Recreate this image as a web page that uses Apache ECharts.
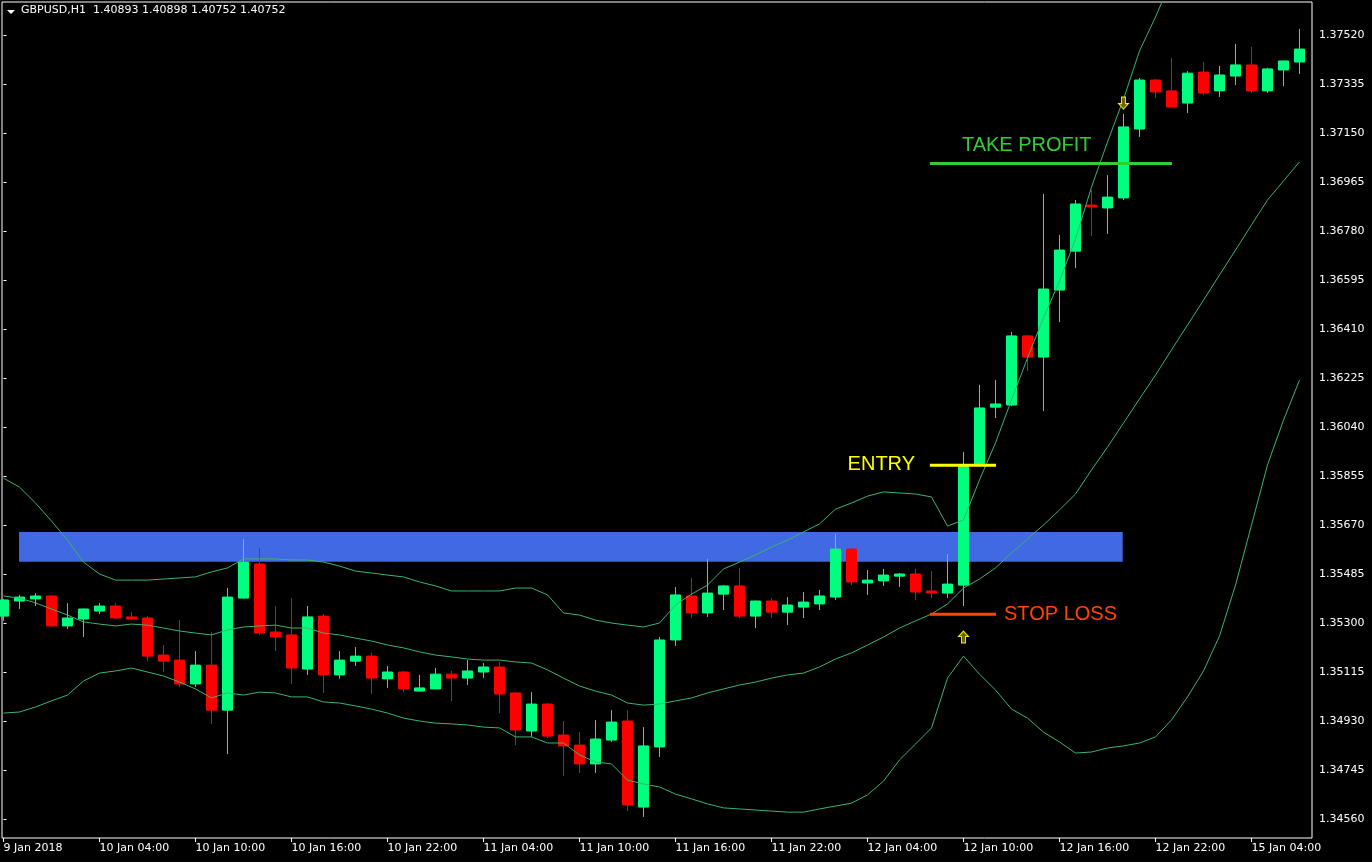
<!DOCTYPE html>
<html><head><meta charset="utf-8">
<script src="https://cdn.jsdelivr.net/npm/echarts@6/dist/echarts.min.js"></script>
<style>html,body{margin:0;padding:0;background:#000;}#c{width:1372px;height:862px;}</style>
</head><body><div id="c"></div>
<script>
// ---- data (GBPUSD H1) ----
const barTimes = [
 "9 Jan 22:00","9 Jan 23:00",
 "10 Jan 00:00","10 Jan 01:00","10 Jan 02:00","10 Jan 03:00","10 Jan 04:00","10 Jan 05:00","10 Jan 06:00","10 Jan 07:00",
 "10 Jan 08:00","10 Jan 09:00","10 Jan 10:00","10 Jan 11:00","10 Jan 12:00","10 Jan 13:00","10 Jan 14:00","10 Jan 15:00",
 "10 Jan 16:00","10 Jan 17:00","10 Jan 18:00","10 Jan 19:00","10 Jan 20:00","10 Jan 21:00","10 Jan 22:00","10 Jan 23:00",
 "11 Jan 00:00","11 Jan 01:00","11 Jan 02:00","11 Jan 03:00","11 Jan 04:00","11 Jan 05:00","11 Jan 06:00","11 Jan 07:00",
 "11 Jan 08:00","11 Jan 09:00","11 Jan 10:00","11 Jan 11:00","11 Jan 12:00","11 Jan 13:00","11 Jan 14:00","11 Jan 15:00",
 "11 Jan 16:00","11 Jan 17:00","11 Jan 18:00","11 Jan 19:00","11 Jan 20:00","11 Jan 21:00","11 Jan 22:00","11 Jan 23:00",
 "12 Jan 00:00","12 Jan 01:00","12 Jan 02:00","12 Jan 03:00","12 Jan 04:00","12 Jan 05:00","12 Jan 06:00","12 Jan 07:00",
 "12 Jan 08:00","12 Jan 09:00","12 Jan 10:00","12 Jan 11:00","12 Jan 12:00","12 Jan 13:00","12 Jan 14:00","12 Jan 15:00",
 "12 Jan 16:00","12 Jan 17:00","12 Jan 18:00","12 Jan 19:00","12 Jan 20:00","12 Jan 21:00","12 Jan 22:00","12 Jan 23:00",
 "15 Jan 00:00","15 Jan 01:00","15 Jan 02:00","15 Jan 03:00","15 Jan 04:00","15 Jan 05:00","15 Jan 06:00","15 Jan 07:00"
];
const opens = [
 1.35326,1.35383,1.35391,1.35402,1.35289,1.35315,1.35345,1.35364,1.35323,1.35319,
 1.35179,1.35160,1.35070,1.35141,1.34971,1.35394,1.35523,1.35266,1.35255,1.35126,
 1.35326,1.35104,1.35156,1.35175,1.35089,1.35115,1.35043,1.35051,1.35107,1.35092,
 1.35115,1.35134,1.35036,1.34892,1.34994,1.34877,1.34839,1.34768,1.34858,1.34930,
 1.34605,1.34832,1.35236,1.35402,1.35338,1.35409,1.35440,1.35326,1.35383,1.35341,
 1.35360,1.35372,1.35398,1.35579,1.35451,1.35459,1.35477,1.35485,1.35421,1.35413,
 1.35443,1.35896,1.36115,1.36123,1.36384,1.36304,1.36557,1.36704,1.36878,1.36867,
 1.36905,1.37165,1.37350,1.37309,1.37263,1.37380,1.37309,1.37365,1.37407,1.37309,
 1.37388,1.37418
];
const closes = [
 1.35387,1.35398,1.35402,1.35289,1.35319,1.35353,1.35364,1.35319,1.35315,1.35175,
 1.35156,1.35070,1.35141,1.34971,1.35398,1.35530,1.35262,1.35247,1.35130,1.35323,
 1.35104,1.35160,1.35175,1.35092,1.35115,1.35051,1.35055,1.35107,1.35092,1.35119,
 1.35134,1.35032,1.34896,1.34994,1.34873,1.34836,1.34768,1.34862,1.34926,1.34613,
 1.34836,1.35236,1.35406,1.35338,1.35413,1.35440,1.35326,1.35383,1.35341,1.35368,
 1.35379,1.35402,1.35579,1.35455,1.35462,1.35481,1.35485,1.35417,1.35413,1.35447,
 1.35893,1.36112,1.36127,1.36384,1.36304,1.36561,1.36708,1.36882,1.36871,1.36908,
 1.37173,1.37350,1.37305,1.37248,1.37376,1.37301,1.37369,1.37407,1.37309,1.37392,
 1.37422,1.37467
];
const lows = [
 1.35308,1.35353,1.35364,1.35285,1.35277,1.35247,1.35334,1.35315,1.35311,1.35156,
 1.35115,1.35058,1.35058,1.34919,1.34805,1.35391,1.35255,1.35194,1.35070,1.35104,
 1.35036,1.35089,1.35138,1.35032,1.35055,1.35039,1.35043,1.35051,1.35005,1.35066,
 1.35092,1.34960,1.34839,1.34870,1.34866,1.34722,1.34734,1.34734,1.34851,1.34590,
 1.34568,1.34794,1.35213,1.35319,1.35323,1.35349,1.35319,1.35281,1.35319,1.35292,
 1.35319,1.35349,1.35387,1.35443,1.35406,1.35440,1.35436,1.35387,1.35394,1.35394,
 1.35364,1.35896,1.36074,1.36119,1.36251,1.36100,1.36436,1.36640,1.36761,1.36769,
 1.36897,1.37135,1.37282,1.37248,1.37225,1.37293,1.37286,1.37331,1.37301,1.37301,
 1.37327,1.37373
];
const highs = [
 1.35391,1.35406,1.35413,1.35406,1.35375,1.35355,1.35375,1.35375,1.35341,1.35326,
 1.35217,1.35311,1.35194,1.35266,1.35432,1.35617,1.35583,1.35364,1.35394,1.35364,
 1.35334,1.35194,1.35209,1.35187,1.35138,1.35119,1.35104,1.35130,1.35119,1.35160,
 1.35149,1.35153,1.35039,1.35039,1.34998,1.34930,1.34888,1.34934,1.34971,1.34971,
 1.34907,1.35247,1.35436,1.35470,1.35542,1.35443,1.35508,1.35385,1.35394,1.35398,
 1.35417,1.35425,1.35636,1.35583,1.35500,1.35504,1.35489,1.35504,1.35496,1.35560,
 1.35946,1.36199,1.36217,1.36399,1.36387,1.36920,1.36765,1.36897,1.36935,1.36991,
 1.37222,1.37358,1.37354,1.37433,1.37384,1.37418,1.37403,1.37486,1.37475,1.37396,
 1.37424,1.37543
];
const bbUpper = [
 1.35847,1.35813,1.35753,1.35685,1.35613,1.35530,1.35485,1.35462,1.35462,1.35462,
 1.35466,1.35470,1.35474,1.35493,1.35508,1.35542,1.35542,1.35542,1.35538,1.35538,
 1.35530,1.35515,1.35496,1.35489,1.35481,1.35474,1.35455,1.35440,1.35421,1.35421,
 1.35421,1.35421,1.35432,1.35432,1.35406,1.35338,1.35330,1.35311,1.35300,1.35292,
 1.35285,1.35300,1.35368,1.35409,1.35443,1.35504,1.35530,1.35557,1.35587,1.35613,
 1.35644,1.35674,1.35730,1.35753,1.35779,1.35795,1.35791,1.35787,1.35776,1.35666,
 1.35689,1.35840,1.35980,1.36142,1.36301,1.36452,1.36591,1.36750,1.36946,1.37116,
 1.37278,1.37460,1.37588,1.37728,1.37830,1.37920,1.37977,1.37973,1.37935,1.37898,
 1.37871,1.37864
];
const bbMiddle = [
 1.35402,1.35394,1.35376,1.35353,1.35330,1.35304,1.35296,1.35289,1.35296,1.35292,
 1.35281,1.35270,1.35262,1.35255,1.35274,1.35285,1.35289,1.35292,1.35281,1.35281,
 1.35262,1.35255,1.35243,1.35232,1.35217,1.35206,1.35191,1.35179,1.35172,1.35164,
 1.35160,1.35160,1.35153,1.35149,1.35123,1.35092,1.35062,1.35043,1.35028,1.34998,
 1.34990,1.34994,1.35006,1.35017,1.35036,1.35051,1.35066,1.35077,1.35092,1.35104,
 1.35111,1.35134,1.35164,1.35187,1.35217,1.35247,1.35281,1.35308,1.35334,1.35372,
 1.35432,1.35466,1.35508,1.35564,1.35617,1.35670,1.35727,1.35787,1.35878,1.35964,
 1.36055,1.36146,1.36236,1.36331,1.36425,1.36519,1.36614,1.36708,1.36803,1.36897,
 1.36969,1.37041
];
const bbLower = [
 1.34960,1.34964,1.34983,1.35006,1.35028,1.35081,1.35111,1.35119,1.35130,1.35115,
 1.35100,1.35077,1.35051,1.35017,1.35036,1.35028,1.35039,1.35036,1.35021,1.35021,
 1.35002,1.34998,1.34987,1.34975,1.34960,1.34941,1.34930,1.34922,1.34919,1.34915,
 1.34907,1.34904,1.34870,1.34870,1.34847,1.34847,1.34802,1.34775,1.34768,1.34707,
 1.34692,1.34681,1.34654,1.34636,1.34617,1.34602,1.34598,1.34594,1.34590,1.34586,
 1.34586,1.34598,1.34609,1.34620,1.34651,1.34703,1.34783,1.34843,1.34904,1.35092,
 1.35175,1.35107,1.35047,1.34975,1.34941,1.34888,1.34851,1.34809,1.34813,1.34828,
 1.34836,1.34847,1.34870,1.34934,1.35021,1.35119,1.35251,1.35443,1.35670,1.35897,
 1.36066,1.36217
];
const yTicks = [1.34560,1.34745,1.34930,1.35115,1.35300,1.35485,1.35670,1.35855,1.36040,
 1.36225,1.36410,1.36595,1.36780,1.36965,1.37150,1.37335,1.37520];
const xTickIndex = [0,6,12,18,24,30,36,42,48,54,60,66,72,78];
const xTickLabels = ["9 Jan 2018","10 Jan 04:00","10 Jan 10:00","10 Jan 16:00","10 Jan 22:00",
 "11 Jan 04:00","11 Jan 10:00","11 Jan 16:00","11 Jan 22:00","12 Jan 04:00","12 Jan 10:00",
 "12 Jan 16:00","12 Jan 22:00","15 Jan 04:00"];
const headerText = "GBPUSD,H1  1.40893 1.40898 1.40752 1.40752";
// trade annotations (price levels and bar spans)
const zone = {fromBar:0.97, toBar:69.95, low:1.35531, high:1.35644};
const levels = [
 {name:"TAKE PROFIT", price:1.37035, fromBar:57.9, toBar:73.03, color:"#32CD32"},
 {name:"ENTRY", price:1.35896, fromBar:57.9, toBar:62.03, color:"#FFFF00"},
 {name:"STOP LOSS", price:1.35333, fromBar:57.9, toBar:62.03, color:"#FF4500"}
];
const levelLabels = [
 {text:"TAKE PROFIT", bar:59.9, price:1.37105, side:"right", color:"#32CD32"},
 {text:"ENTRY", bar:56.97, price:1.35896, side:"left", color:"#FFFF00"},
 {text:"STOP LOSS", bar:62.53, price:1.35333, side:"right", color:"#FF4500"}
];
const buyArrows = [[60, 1.35247]];
const sellArrows = [[70, 1.37263]];

// ---- chart ----
const chart = echarts.init(document.getElementById('c'), null, {renderer:'canvas'});
const FONT = "'DejaVu Sans', Tahoma, sans-serif";
const series = [];
series.push({
  type:'candlestick', name:'GBPUSD', z:2, barWidth:10,
  encode:{x:0, y:[1,2,3,4]},
  data: opens.map((o,i)=>[i, o, closes[i], lows[i], highs[i]]),
  itemStyle:{color:'#00FF7F', color0:'#FF0000', borderColor:'#00FF7F', borderColor0:'#FF0000', borderWidth:1},
  markArea:{silent:true, z:1, itemStyle:{color:'#4169E1', opacity:1},
    data:[[{coord:[zone.fromBar, zone.high]},{coord:[zone.toBar, zone.low]}]]}
});
[bbUpper, bbMiddle, bbLower].forEach((arr,k)=>{
  series.push({type:'line', name:'BB'+k, z:3, showSymbol:false, symbol:'none', silent:true, clip:true,
    data: arr.map((v,i)=>[i,v]), lineStyle:{color:'#3CB371', width:1}});
});
levels.forEach(l=>{
  series.push({type:'line', name:l.name, z:4, symbol:'none', silent:true,
    data:[[l.fromBar,l.price],[l.toBar,l.price]], lineStyle:{color:l.color, width:3}});
});
const labelOffsets = {"TAKE PROFIT":[0,1], "ENTRY":[0,-1], "STOP LOSS":[0,0]};
series.push({type:'scatter', name:'labels', z:6, symbolSize:0, silent:true, itemStyle:{opacity:1},
  data: levelLabels.map(t=>({value:[t.bar,t.price], label:{show:true, position:t.side, distance:0,
    formatter:t.text, color:t.color, opacity:1, fontSize:20, fontFamily:"'Liberation Sans', Arial, sans-serif",
    offset:labelOffsets[t.text]}}))});
series.push({type:'scatter', name:'buy', z:5, silent:true,
  symbol:'path://M5 0L10 5L7 5L7 11L3 11L3 5L0 5Z', symbolSize:[10,12],
  itemStyle:{color:'#6b6500', borderColor:'#FFEE00', borderWidth:1, opacity:1}, data:buyArrows});
series.push({type:'scatter', name:'sell', z:5, silent:true,
  symbol:'path://M3 0L7 0L7 6L10 6L5 11L0 6L3 6Z', symbolSize:[10,12],
  itemStyle:{color:'#6b6500', borderColor:'#FFEE00', borderWidth:1, opacity:1}, data:sellArrows});

chart.setOption({
  animation:false,
  backgroundColor:'#000000',
  grid:{left:2, top:2, right:60, bottom:24, show:true, borderColor:'#ffffff', borderWidth:1, backgroundColor:'transparent'},
  xAxis:{type:'value', min:-0.09375, max:81.78125,
    axisLine:{show:false}, splitLine:{show:false},
    axisTick:{show:true, length:4, lineStyle:{color:'#fff'}, customValues:xTickIndex},
    axisLabel:{color:'#fff', fontFamily:FONT, fontSize:11, align:'left', margin:5,
      customValues:xTickIndex,
      formatter:v=>{const k=xTickIndex.indexOf(Math.round(v)); return k>=0?xTickLabels[k]:'';}}
  },
  yAxis:{type:'value', position:'right', min:1.344883, max:1.376446, scale:true,
    axisLine:{show:false}, splitLine:{show:false},
    axisTick:{show:true, length:3, lineStyle:{color:'#fff'}, customValues:yTicks},
    axisLabel:{color:'#fff', fontFamily:FONT, fontSize:11, margin:7, customValues:yTicks,
      formatter:v=>v.toFixed(5)}
  },
  graphic:[
    {type:'polygon', shape:{points:[[7,10],[15,10],[11,14]]}, style:{fill:'#fff'}, z:10},
    {type:'text', left:21, top:5, z:10, style:{text:headerText, fill:'#fff', font:"11px 'DejaVu Sans', Tahoma, sans-serif"}}
  ],
  series
});
</script></body></html>
